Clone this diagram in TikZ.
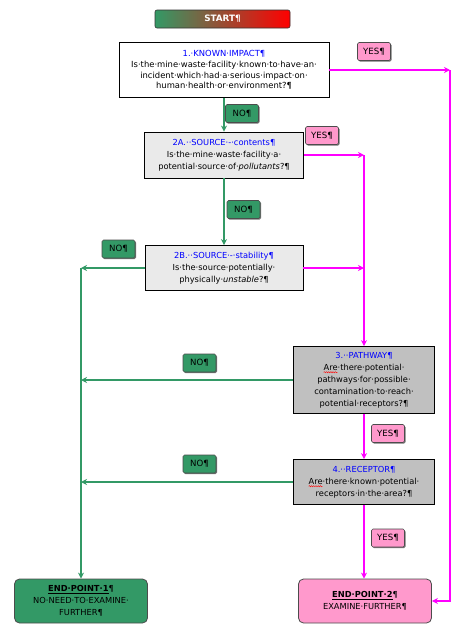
\documentclass[tikz,border=0pt]{standalone}
\usepackage{fontspec}
\setmainfont{DejaVu Sans}
\usetikzlibrary{arrows.meta,shadows,decorations.pathmorphing}
\definecolor{grn}{HTML}{339966}
\definecolor{mag}{HTML}{FF00FF}
\definecolor{pnk}{HTML}{FF99CC}
\definecolor{lgray}{HTML}{EAEAEA}
\definecolor{mgray}{HTML}{C0C0C0}
\definecolor{qblue}{HTML}{0000FF}
\newcommand\sq[1]{\setbox0\hbox{#1}\rlap{\tikz[overlay]\draw[draw=red,line width=0.4pt,decorate,decoration={snake,amplitude=0.6pt,segment length=2.2pt}] (0pt,-2pt) -- (\wd0,-2pt);}\box0}
\begin{document}
\begin{tikzpicture}[x=1pt,y=-1pt,
  font=\fontsize{8.3}{12}\selectfont,
  q/.style={draw=black, line width=0.8pt, align=center, inner sep=1pt},
  lab/.style={draw=black!70, rounded corners=1.5pt, minimum width=33pt, minimum height=18pt, inner sep=0pt, line width=0.6pt,
    font=\fontsize{8.6}{10}\selectfont,
    drop shadow={shadow xshift=1pt,shadow yshift=-1pt,fill=black!55,opacity=1}},
  yes/.style={lab, fill=pnk},
  no/.style={lab, fill=grn},
  endbox/.style={draw=black!70, line width=0.8pt, rounded corners=5pt, minimum width=133pt, minimum height=44pt, align=center, inner sep=1pt},
  ga/.style={draw=grn, line width=2pt, -{Stealth[length=6pt,width=6pt]}},
  ma/.style={draw=mag, line width=2pt, -{Stealth[length=6pt,width=6pt]}}]
\useasboundingbox[fill=white] (0,0) rectangle (473,638);

\node[draw=black!80, line width=0.6pt, rounded corners=2pt, left color=grn, right color=red, minimum width=135pt, minimum height=18pt, inner sep=0pt, text=white, font=\bfseries\fontsize{8.8}{10}\selectfont] (start) at (222.5,19) {START¶};

\node[q, fill=white, minimum width=210pt, minimum height=55pt, font=\fontsize{8.4}{10.8}\selectfont] (b1) at (224,70)
  {\textcolor{qblue}{1.·KNOWN·IMPACT¶}\\Is·the·mine·waste·facility·known·to·have·an·\\incident·which·had·a·serious·impact·on·\\human·health·or·environment?¶};
\node[q, fill=lgray, minimum width=159pt, minimum height=46pt] (b2) at (224,155)
  {\textcolor{qblue}{2A.··SOURCE·-·contents¶}\\Is·the·mine·waste·facility·a·\\potential·source·of·\textit{pollutants}?¶};
\node[q, fill=lgray, minimum width=158pt, minimum height=45pt] (b2b) at (224,268)
  {\textcolor{qblue}{2B.··SOURCE·-·stability¶}\\Is·the·source·potentially·\\physically·\textit{unstable}?¶};
\node[q, fill=mgray, minimum width=141pt, minimum height=67pt] (b3) at (364,380)
  {\textcolor{qblue}{3.··PATHWAY¶}\\\sq{Are}·there·potential·\\pathways·for·possible·\\contamination·to·reach·\\potential·receptors?¶};
\node[q, fill=mgray, minimum width=141pt, minimum height=45pt] (b4) at (364,482)
  {\textcolor{qblue}{4.··RECEPTOR¶}\\\sq{Are}·there·known·potential·\\receptors·in·the·area?¶};

\node[endbox, fill=grn] (e1) at (81,601)
  {\textbf{\underline{END·POINT·1}}¶\\NO·NEED·TO·EXAMINE·\\FURTHER¶};
\node[endbox, fill=pnk] (e2) at (365,601)
  {\textbf{\underline{END·POINT·2}}¶\\EXAMINE·FURTHER¶};

\node[yes] (y1) at (374,51.5) {YES¶};
\node[yes] (y2) at (322,135.5) {YES¶};
\node[no] (n1) at (242,113.5) {NO¶};
\node[no] (n2) at (243.5,209.5) {NO¶};
\node[no] (n2b) at (118.5,249) {NO¶};
\node[no] (n3) at (199.5,363) {NO¶};
\node[yes] (y3) at (388,433.5) {YES¶};
\node[no] (n4) at (199.5,464) {NO¶};
\node[yes] (y4) at (388,538) {YES¶};

% green (NO) connectors
\draw[ga] (b1.south) -- (b2.north);
\draw[ga] (b2.south) -- (b2b.north);
\coordinate (g1) at (81,268);
\coordinate (g3) at (81,380);
\coordinate (g4) at (81,482);
\draw[ga] (b2b.west) -- (g1);
\draw[ga] (g1) -- (e1.north);
\draw[ga] (b3.west) -- (g3);
\draw[ga] (b4.west) -- (g4);

% magenta (YES) connectors
\coordinate (m1) at (450,70);
\coordinate (m2) at (364,155);
\coordinate (m2b) at (364,268);
\draw[ma] (b1.east) -- (m1);
\draw[ma] (m1) |- (e2.east);
\draw[ma] (b2.east) -- (m2);
\draw[ma] (m2) -- (b3.north);
\draw[ma] (b2b.east) -- (m2b);
\draw[ma] (b3.south) -- (b4.north);
\draw[ma] (b4.south) -- (b4.south |- e2.north);
\end{tikzpicture}
\end{document}
